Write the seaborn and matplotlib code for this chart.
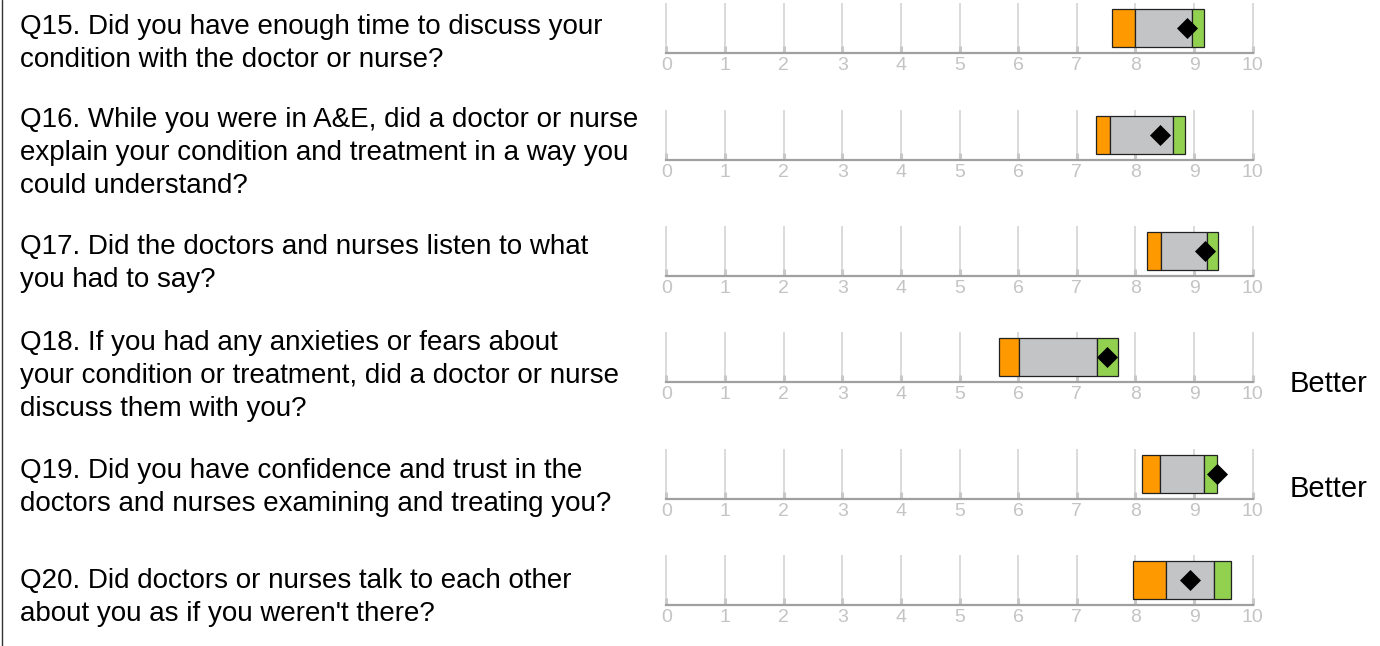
"""Patient survey score ranges, one mini axis per question."""
import matplotlib
matplotlib.use("Agg")
import matplotlib.pyplot as plt
import seaborn as sns
from matplotlib.lines import Line2D

questions = [
    ["Q15. Did you have enough time to discuss your",
     "condition with the doctor or nurse?"],
    ["Q16. While you were in A&E, did a doctor or nurse",
     "explain your condition and treatment in a way you",
     "could understand?"],
    ["Q17. Did the doctors and nurses listen to what",
     "you had to say?"],
    ["Q18. If you had any anxieties or fears about",
     "your condition or treatment, did a doctor or nurse",
     "discuss them with you?"],
    ["Q19. Did you have confidence and trust in the",
     "doctors and nurses examining and treating you?"],
    ["Q20. Did doctors or nurses talk to each other",
     "about you as if you weren't there?"],
]
orange_lo = [7.60, 7.33, 8.19, 5.67, 8.11, 7.96]
gray_lo = [8.00, 7.57, 8.43, 6.02, 8.42, 8.52]
green_lo = [8.97, 8.64, 9.22, 7.34, 9.17, 9.34]
green_hi = [9.17, 8.85, 9.41, 7.70, 9.39, 9.63]
scores = [8.88, 8.42, 9.19, 7.51, 9.39, 8.93]
verdicts = ["", "", "", "Better", "Better", ""]
ticks = list(range(0, 11))

W, H = 1380, 646
AX_X0, AX_X1 = 664.7, 1254.5
AXIS_Y = [53, 160, 276, 382, 499, 605]
TEXT_TOP = [34, 127, 254, 350, 478, 588]
LINE_PITCH = 33
VERDICT_Y = [0, 0, 0, 392, 497, 0]

ORANGE = "#ff9900"
GRAY = "#c3c4c6"
GREEN = "#92d050"

sns.set_theme(style="white")
plt.rcParams["font.family"] = ["Liberation Sans", "DejaVu Sans"]

fig = plt.figure(figsize=(W / 100, H / 100), dpi=100)

for i, lines in enumerate(questions):
    ax = fig.add_axes([AX_X0 / W, 1 - AXIS_Y[i] / H, (AX_X1 - AX_X0) / W, 50 / H])
    segments = [(orange_lo, gray_lo, ORANGE), (gray_lo, green_lo, GRAY),
                (green_lo, green_hi, GREEN)]
    for lo, hi, color in segments:
        sns.barplot(x=[hi[i] - lo[i]], y=[0], orient="h", left=lo[i], color=color,
                    saturation=1, width=0.76, errorbar=None, edgecolor="#222222",
                    linewidth=0.9, ax=ax)
    sns.scatterplot(x=[scores[i]], y=[0], marker="D", s=115, color="black",
                    linewidth=0, zorder=5, ax=ax)

    ax.set_xlim(-0.03, 10.03)
    ax.set_ylim(0.5, -0.5)
    ax.set_xticks(ticks)
    ax.set_yticks([])
    ax.set_xlabel("")
    ax.set_ylabel("")
    ax.grid(axis="x", color="#d4d4d4", linewidth=1.2)
    ax.set_axisbelow(True)
    ax.tick_params(axis="x", direction="in", length=5, width=2.2, color="#c8c8c8",
                   labelcolor="#c4c4c4", labelsize=14, pad=3, bottom=True)
    for side in ["top", "right", "left"]:
        ax.spines[side].set_visible(False)
    ax.spines["bottom"].set_color("#a0a0a0")
    ax.spines["bottom"].set_linewidth(1.6)
    ax.spines["bottom"].set_bounds(0, 10)

    for k, line in enumerate(lines):
        y = TEXT_TOP[i] + k * LINE_PITCH
        fig.text(20 / W, 1 - y / H, line, fontsize=20, color="black",
                 ha="left", va="baseline")

    if verdicts[i]:
        fig.text(1290 / W, 1 - VERDICT_Y[i] / H, verdicts[i], fontsize=21,
                 color="black", ha="left", va="baseline")

fig.add_artist(Line2D([2 / W, 2 / W], [0, 1], color="#333333", linewidth=1))

fig.savefig("out.png", dpi=100)
plt.close(fig)
